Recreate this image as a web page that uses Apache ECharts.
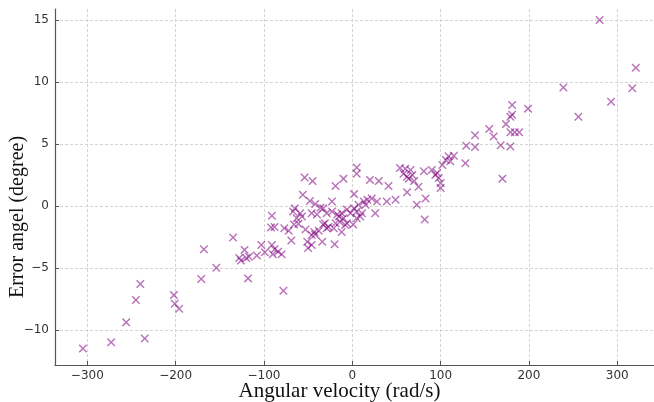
<!DOCTYPE html>
<html>
<head>
<meta charset="utf-8">
<script src="https://cdn.jsdelivr.net/npm/echarts@6/dist/echarts.min.js"></script>
<style>
html,body{margin:0;padding:0;background:#fff;}
#chart{width:654px;height:402px;}
</style>
</head>
<body>
<div id="chart"></div>
<script>
const angularVelocity = [
  -305,-273,-256,-245,-240,-235,-202,-201,-196,-171,-168,-154,-135,-128,-126,-122,-120,-117,-118,-108,
  -103,-99,-91,-92,-88,-91,-88,-84,-80,-90,-78,-77,-72,-69,-65,-67,-59,-63,-57,-61,
  -66,-54,-45,-56,-48,-42,-36,-23,-46,-40,-29,-23,-17,-10,-14,-53,-46,-42,-33,-29,
  -21,-6,-46,-50,-20,-34,-19,-10,-12,-15,-8,-19,-31,-27,-33,-6,5,5,2,7,
  13,5,5,2,11,9,17,22,28,26,20,30,41,39,49,54,60,66,58,62,
  68,64,70,75,81,90,94,62,83,73,82,96,98,100,100,102,106,111,109,115,
  128,129,139,139,155,160,168,179,170,174,179,181,181,199,179,184,189,239,256,280,
  293,317,321,-51,-43,-38,-2,15,-12,1
];
const errorAngle = [
  -11.5,-11.0,-9.4,-7.6,-6.3,-10.7,-7.2,-7.9,-8.3,-5.9,-3.5,-5.0,-2.55,-4.2,-4.4,-3.55,-4.2,-4.1,-5.85,-4.0,
  -3.15,-3.75,-0.8,-1.75,-1.7,-3.15,-3.5,-3.7,-3.9,-3.9,-6.85,-1.8,-2.0,-2.8,-0.2,-0.45,-0.6,-1.0,-0.85,-1.45,
  -1.5,2.3,2.0,0.9,0.4,0.15,-0.15,0.35,-0.6,-0.7,-0.6,-0.45,-0.7,-1.0,-1.3,-1.9,-2.35,-2.3,-1.5,-1.8,
  -1.8,-1.4,-3.15,-3.4,-3.1,-2.9,1.6,2.2,-0.6,-0.85,-1.55,-1.4,-1.4,-1.7,-0.2,-0.3,3.1,2.6,0.95,0.1,
  0.35,-1.0,-0.45,-0.2,-0.6,-0.85,0.5,0.6,0.35,-0.6,2.1,2.0,1.6,0.35,0.5,3.05,3.0,2.9,2.6,2.35,
  2.5,2.2,2.0,1.55,2.8,2.9,2.5,1.1,0.6,0.1,-1.1,2.65,2.25,1.85,1.45,3.3,3.7,3.6,4.0,4.05,
  3.45,4.85,4.75,5.7,6.2,5.6,4.9,4.8,2.2,6.6,7.2,7.35,8.15,7.85,5.95,5.95,5.95,9.55,7.2,15.0,
  8.4,9.5,11.15,-2.9,-2.1,-2.0,-0.6,0.1,-2.1,-1.5
];
const xTicks = [-300,-200,-100,0,100,200,300];
const yTicks = [-10,-5,0,5,10,15];
const xTitle = 'Angular velocity (rad/s)';
const yTitle = 'Error angel (degree)';

const points = angularVelocity.map((v, i) => [v, errorAngle[i]]);
const crossPath = 'path://M0,1.2 L1.2,0 L5,3.8 L8.8,0 L10,1.2 L6.2,5 L10,8.8 L8.8,10 L5,6.2 L1.2,10 L0,8.8 L3.8,5 Z';
const fmt = v => String(v).replace('-', '\u2212');

const chart = echarts.init(document.getElementById('chart'), null, {renderer: 'canvas'});
chart.setOption({
  animation: false,
  backgroundColor: '#ffffff',
  grid: {left: 55, right: 0, top: 9, bottom: 37, containLabel: false, outerBoundsMode: 'none'},
  xAxis: {
    type: 'value',
    min: -336.6, max: 341.6,
    name: xTitle,
    nameLocation: 'middle',
    nameGap: 16,
    nameMoveOverlap: false,
    nameTextStyle: {fontFamily: 'Liberation Serif', fontSize: 21, color: '#111', padding: [0, 30, 0, 0]},
    axisLine: {show: true, onZero: false, lineStyle: {color: '#555', width: 1.2}},
    axisTick: {show: true, inside: true, length: 4, customValues: xTicks, lineStyle: {color: '#555'}},
    axisLabel: {customValues: xTicks, formatter: fmt, fontFamily: 'DejaVu Sans', fontSize: 12, color: '#333', margin: 5},
    splitLine: {show: true, lineStyle: {color: '#d4d4d4', type: [3, 2], width: 1}}
  },
  yAxis: {
    type: 'value',
    min: -12.84, max: 15.89,
    name: yTitle,
    nameLocation: 'middle',
    nameGap: 27,
    nameRotate: 90,
    nameMoveOverlap: false,
    nameTextStyle: {fontFamily: 'Liberation Serif', fontSize: 20, color: '#111', padding: [0, 60, 0, 0]},
    axisLine: {show: true, onZero: false, lineStyle: {color: '#555', width: 1.2}},
    axisTick: {show: true, inside: true, length: 4, customValues: yTicks, lineStyle: {color: '#555'}},
    axisLabel: {customValues: yTicks, formatter: fmt, fontFamily: 'DejaVu Sans', fontSize: 12, color: '#333', margin: 6},
    splitLine: {show: true, lineStyle: {color: '#d4d4d4', type: [3, 2], width: 1}}
  },
  series: [{
    type: 'scatter',
    data: points,
    symbol: crossPath,
    symbolSize: 8.5,
    itemStyle: {color: '#800080', opacity: 0.55}
  }]
});
</script>
</body>
</html>
